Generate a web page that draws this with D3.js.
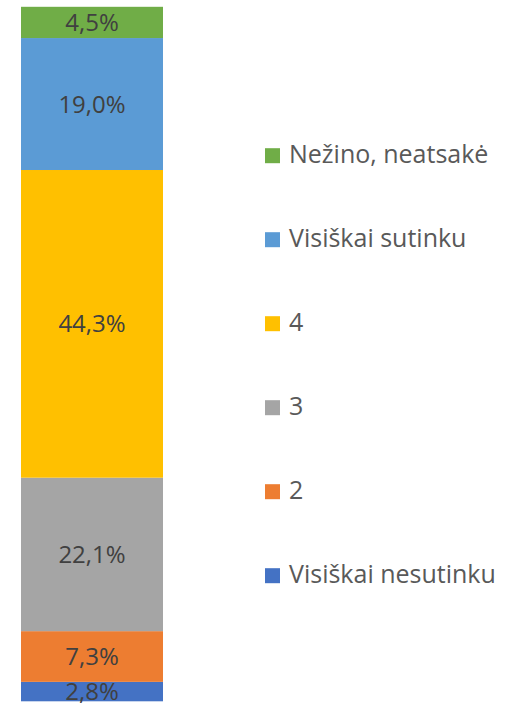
<!DOCTYPE html>
<html>
<head>
<meta charset="utf-8">
<script src="https://cdnjs.cloudflare.com/ajax/libs/d3/7.8.5/d3.min.js"></script>
<style>
  body { margin: 0; background: #fff; }
  svg { display: block; }
</style>
</head>
<body>
<svg id="svg1"></svg>
<script>
// series, bottom to top
var series = ["Visiškai nesutinku", "2", "3", "4", "Visiškai sutinku", "Nežino, neatsakė"];
var values = [2.8, 7.3, 22.1, 44.3, 19.0, 4.5];
var colors = ["#4472C4", "#ED7D31", "#A5A5A5", "#FFC000", "#5B9BD5", "#70AD47"];
var category = ["Atsakymai"];

var width = 506, height = 703;

var svg = d3.select("#svg1")
	.attr("width", width)
	.attr("height", height);

var x = d3.scaleBand()
	.domain(category)
	.range([21, 163])
	.padding(0);

var y = d3.scaleLinear()
	.domain([0, 100])
	.range([701.3, 6.8]);

var color = d3.scaleOrdinal()
	.domain(series)
	.range(colors);

// stack data
var row = {};
series.forEach(function(s, i) { row[s] = values[i]; });
var stack = d3.stack().keys(series);
var stacked = stack([row]);

var fmt = function(v) { return v.toFixed(1).replace(".", ",") + "%"; };

var g = svg.append("g");

g.selectAll(".seg")
	.data(stacked)
	.enter().append("rect")
	.attr("class", "seg")
	.attr("x", x(category[0]))
	.attr("width", x.bandwidth())
	.attr("y", function(d) { return y(d[0][1]); })
	.attr("height", function(d) { return y(d[0][0]) - y(d[0][1]); })
	.style("fill", function(d) { return color(d.key); });

g.selectAll(".lbl")
	.data(stacked)
	.enter().append("text")
	.attr("class", "lbl")
	.attr("x", x(category[0]) + x.bandwidth() / 2)
	.attr("y", function(d) { return (y(d[0][0]) + y(d[0][1])) / 2; })
	.attr("dy", "0.36em")
	.attr("text-anchor", "middle")
	.style("font-family", "'Open Sans', sans-serif")
	.style("font-size", "24px")
	.style("fill", "#404040")
	.text(function(d) { return fmt(d[0].data[d.key]); });

// legend, top item = last series
var legendY = d3.scalePoint()
	.domain(series.slice().reverse())
	.range([155.7, 575.7]);

var legend = svg.append("g")
	.selectAll(".leg")
	.data(series.slice().reverse())
	.enter().append("g")
	.attr("class", "leg")
	.attr("transform", function(d) { return "translate(265," + legendY(d) + ")"; });

legend.append("rect")
	.attr("x", 0)
	.attr("y", -7.5)
	.attr("width", 15)
	.attr("height", 15)
	.style("fill", function(d) { return color(d); });

legend.append("text")
	.attr("x", 24)
	.attr("y", 7.5)
	.style("font-family", "'Open Sans', sans-serif")
	.style("font-size", "25px")
	.style("fill", "#595959")
	.text(function(d) { return d; });
</script>
</body>
</html>
